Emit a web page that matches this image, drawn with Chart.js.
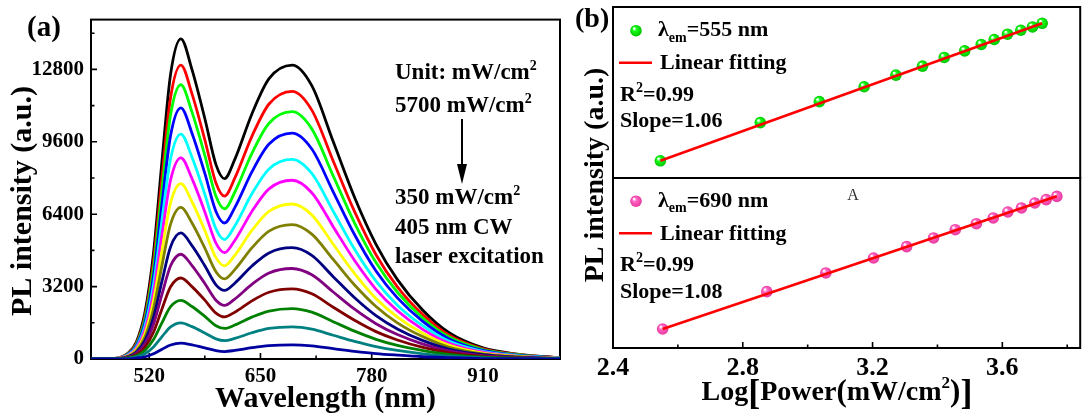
<!DOCTYPE html>
<html>
<head>
<meta charset="utf-8">
<script src="https://cdn.jsdelivr.net/npm/chart.js@4.4.1/dist/chart.umd.min.js"></script>
<style>
  html, body { margin: 0; padding: 0; background: #fff; overflow: hidden; }
  #wrap { position: relative; width: 1086px; height: 417px; }
  canvas { position: absolute; top: 0; }
</style>
</head>
<body>
<div id="wrap">
  <canvas id="spectra" width="566" height="417" style="left:0;width:566px;height:417px"></canvas>
  <canvas id="fit690" width="521" height="417" style="left:565px;width:521px;height:417px"></canvas>
  <canvas id="fit555" width="521" height="417" style="left:565px;width:521px;height:417px"></canvas>
</div>
<script>
// ---- panel (a): PL spectra, 5700 -> 350 mW/cm2 ----
const wavelengths = [452, 480, 495, 505, 515, 525, 535, 545, 557, 570, 585, 598, 608, 620, 640, 660, 687, 710, 735, 760, 785, 810, 840, 870, 910, 950, 1000];
const pl01 = [0, 30, 250, 750, 2050, 4670, 8770, 12590, 14150, 12790, 10630, 8590, 7970, 8820, 10830, 12390, 12990, 12080, 9610, 7140, 5070, 3510, 2140, 1170, 490, 220, 50];
const pl02 = [0, 30, 230, 690, 1880, 4290, 8050, 11560, 12990, 11720, 9690, 7780, 7200, 7990, 9840, 11270, 11830, 11000, 8750, 6510, 4610, 3190, 1950, 1060, 450, 200, 50];
const pl03 = [0, 20, 220, 640, 1760, 4000, 7510, 10790, 12120, 10910, 9000, 7190, 6640, 7370, 9090, 10420, 10930, 10170, 8090, 6010, 4260, 2950, 1800, 980, 420, 190, 40];
const pl04 = [0, 20, 200, 590, 1610, 3660, 6880, 9880, 11100, 9980, 8200, 6520, 6010, 6690, 8270, 9500, 9980, 9280, 7390, 5490, 3890, 2700, 1650, 900, 380, 170, 40];
const pl05 = [0, 20, 180, 530, 1440, 3280, 6160, 8850, 9940, 8920, 7280, 5750, 5280, 5880, 7300, 8400, 8820, 8200, 6530, 4850, 3440, 2380, 1460, 790, 340, 150, 40];
const pl06 = [0, 20, 160, 470, 1290, 2930, 5510, 7910, 8890, 7970, 6500, 5120, 4700, 5240, 6520, 7520, 7900, 7350, 5850, 4350, 3080, 2130, 1300, 710, 300, 130, 30];
const pl07 = [0, 20, 140, 410, 1120, 2560, 4810, 6900, 7750, 6950, 5680, 4480, 4120, 4580, 5680, 6520, 6850, 6370, 5070, 3770, 2670, 1850, 1130, 620, 260, 120, 30];
const pl08 = [0, 10, 120, 360, 970, 2210, 4150, 5960, 6700, 6010, 4900, 3860, 3540, 3950, 4910, 5650, 5940, 5520, 4400, 3270, 2320, 1600, 980, 530, 230, 100, 20];
const pl09 = [0, 10, 100, 300, 810, 1840, 3450, 4960, 5570, 5010, 4120, 3280, 3030, 3350, 4110, 4690, 4920, 4580, 3640, 2710, 1920, 1330, 810, 440, 190, 80, 20];
const pl10 = [0, 10, 80, 250, 670, 1530, 2870, 4120, 4630, 4130, 3340, 2600, 2370, 2650, 3300, 3800, 4000, 3720, 2960, 2200, 1560, 1080, 660, 360, 150, 70, 20];
const pl11 = [0, 10, 60, 190, 520, 1180, 2220, 3190, 3580, 3200, 2600, 2030, 1860, 2070, 2570, 2950, 3100, 2880, 2290, 1710, 1210, 840, 510, 280, 120, 50, 10];
const pl12 = [0, 10, 50, 140, 380, 860, 1610, 2310, 2590, 2320, 1880, 1470, 1350, 1500, 1850, 2120, 2230, 2070, 1650, 1230, 870, 600, 370, 200, 80, 40, 10];
const pl13 = [0, 0, 30, 90, 230, 530, 990, 1420, 1600, 1430, 1150, 890, 810, 910, 1160, 1350, 1420, 1320, 1050, 780, 550, 380, 230, 130, 50, 20, 10];
const pl14 = [0, 0, 10, 40, 100, 230, 430, 620, 700, 620, 490, 370, 330, 380, 500, 590, 625, 580, 460, 340, 240, 170, 100, 60, 20, 10, 0];
const spectra = [pl01, pl02, pl03, pl04, pl05, pl06, pl07, pl08, pl09, pl10, pl11, pl12, pl13, pl14];
const spectrumColors = ['#000000', '#ff0000', '#00ff00', '#0000ff', '#00ffff', '#ff00ff', '#ffff00',
  '#808000', '#000080', '#800080', '#800000', '#008000', '#008080', '#0000a0'];
const wavelengthTicks = [520, 650, 780, 910];
const intensityTicks = [0, 3200, 6400, 9600, 12800];

// ---- panel (b): log-log power dependence ----
const logPower555 = [2.546, 2.854, 3.036, 3.174, 3.272, 3.354, 3.421, 3.484, 3.535, 3.575, 3.616, 3.657, 3.693, 3.723];
const logPL555 = [2.756, 3.103, 3.293, 3.428, 3.534, 3.615, 3.694, 3.754, 3.812, 3.857, 3.905, 3.941, 3.971, 4.004];
const fitX555 = [2.546, 3.723];
const fitY555 = [2.757, 4.004];
const logPower690 = [2.553, 2.874, 3.056, 3.203, 3.305, 3.388, 3.455, 3.520, 3.572, 3.617, 3.659, 3.700, 3.735, 3.768];
const logPL690 = [2.688, 3.057, 3.242, 3.390, 3.502, 3.588, 3.670, 3.729, 3.786, 3.845, 3.885, 3.934, 3.967, 3.999];
const fitX690 = [2.553, 3.768];
const fitY690 = [2.688, 4.000];
const powerTicks = [2.4, 2.8, 3.2, 3.6];

const FONT = '"Liberation Serif", "Times New Roman", serif';
Chart.defaults.font.family = FONT;
Chart.defaults.color = '#000';
const bold = size => `bold ${size}px ${FONT}`;

// draws a run of text pieces [text, size, dy] starting at x (or centred)
function richText(ctx, x, y, parts, centred) {
  let w = 0;
  parts.forEach(p => { ctx.font = bold(p[1]); w += ctx.measureText(p[0]).width; });
  let cx = centred ? x - w / 2 : x;
  ctx.textAlign = 'left';
  ctx.textBaseline = 'alphabetic';
  ctx.fillStyle = '#000';
  parts.forEach(p => {
    ctx.font = bold(p[1]);
    ctx.fillText(p[0], cx, y + (p[2] || 0));
    cx += ctx.measureText(p[0]).width;
  });
}

function sphere(ctx, x, y, r, tone) {
  const g = ctx.createRadialGradient(x - r * 0.35, y - r * 0.4, r * 0.1, x, y, r);
  g.addColorStop(0, '#ffffff');
  g.addColorStop(0.3, tone[0]);
  g.addColorStop(1, tone[1]);
  return g;
}

const minorOf = (major, lo, hi) => {
  const step = major[1] - major[0];
  return [major[0] - step / 2, ...major.map(v => v + step / 2)]
    .filter(v => v > lo + step * 0.05 && v < hi - step * 0.05);
};

// box frame with inward Origin-style ticks
function frameTicks(ticks) {
  return {
    id: 'frameTicks',
    beforeDatasetsDraw(chart) {
      const { ctx, chartArea: a, scales } = chart;
      ctx.save();
      ctx.strokeStyle = '#000';
      ctx.lineWidth = 2;
      ctx.strokeRect(a.left, a.top, a.right - a.left, a.bottom - a.top);
      ctx.lineWidth = 1.6;
      ctx.beginPath();
      (ticks.x || []).forEach(([vals, len]) => vals.forEach(v => {
        const px = scales.x.getPixelForValue(v);
        ctx.moveTo(px, a.bottom); ctx.lineTo(px, a.bottom - len);
      }));
      (ticks.y || []).forEach(([vals, len]) => vals.forEach(v => {
        const py = scales.y.getPixelForValue(v);
        ctx.moveTo(a.left, py); ctx.lineTo(a.left + len, py);
      }));
      ctx.stroke();
      ctx.restore();
    }
  };
}

// ----- panel (a) -----
new Chart(document.getElementById('spectra'), {
  type: 'line',
  data: {
    datasets: spectra.map((vals, i) => ({
      data: wavelengths.map((w, k) => ({ x: w, y: vals[k] })),
      borderColor: spectrumColors[i],
      borderWidth: 2.8,
      pointRadius: 0,
      cubicInterpolationMode: 'monotone',
      fill: false,
      order: spectra.length - i
    }))
  },
  options: {
    responsive: false,
    animation: false,
    events: [],
    layout: { padding: { left: 0, top: 16, right: 6, bottom: 0 } },
    plugins: { legend: { display: false }, tooltip: { enabled: false } },
    scales: {
      x: {
        type: 'linear', min: 452, max: 1000,
        afterBuildTicks: s => { s.ticks = wavelengthTicks.map(v => ({ value: v })); },
        afterFit: s => { s.height = 58; },
        grid: { display: false, drawTicks: false },
        border: { display: false },
        ticks: { padding: 5, autoSkip: false, maxRotation: 0, font: { size: 21, weight: 'bold' }, callback: v => String(v) },
        title: { display: true, text: 'Wavelength (nm)', font: { size: 30, weight: 'bold' }, padding: { top: 0, bottom: 0 } }
      },
      y: {
        type: 'linear', min: 0, max: 15000,
        afterBuildTicks: s => { s.ticks = intensityTicks.map(v => ({ value: v })); },
        afterFit: s => { s.width = 91; },
        grid: { display: false, drawTicks: false },
        border: { display: false },
        ticks: { padding: 7, autoSkip: false, font: { size: 21, weight: 'bold' }, callback: v => String(v) }
      }
    }
  },
  plugins: [
    frameTicks({
      x: [[wavelengthTicks, 6], [minorOf(wavelengthTicks, 452, 1000), 3.5]],
      y: [[intensityTicks, 6], [minorOf(intensityTicks, 0, 15000), 3.5]]
    }),
    {
      id: 'notesA',
      afterDraw(chart) {
        const ctx = chart.ctx;
        ctx.save();
        ctx.fillStyle = '#000';
        ctx.translate(23, 201);
        ctx.rotate(-Math.PI / 2);
        ctx.font = bold(30);
        ctx.textAlign = 'center';
        ctx.textBaseline = 'middle';
        ctx.fillText('PL intensity (a.u.)', 0, 0);
        ctx.restore();
        ctx.save();
        richText(ctx, 27, 36, [['(a)', 29]]);
        richText(ctx, 395, 79, [['Unit: mW/cm', 23], ['2', 14, -9]]);
        richText(ctx, 395, 112, [['5700 mW/cm', 23], ['2', 14, -9]]);
        richText(ctx, 395, 204, [['350 mW/cm', 23], ['2', 14, -9]]);
        richText(ctx, 395, 234, [['405 nm CW', 23]]);
        richText(ctx, 395, 263, [['laser excitation', 23]]);
        // arrow 5700 -> 350
        ctx.strokeStyle = '#000';
        ctx.lineWidth = 2;
        ctx.beginPath(); ctx.moveTo(462, 119); ctx.lineTo(462, 168); ctx.stroke();
        ctx.beginPath(); ctx.moveTo(457, 164); ctx.lineTo(467, 164); ctx.lineTo(462, 184); ctx.closePath(); ctx.fill();
        ctx.restore();
      }
    }
  ]
});

// ----- panel (b) -----
const greenTone = ['#18ff18', '#00c400'];
const pinkTone = ['#ff66c6', '#e8399d'];
const OFFB = 565;
const DOT = 5.8;

function powerChart(id, px, py, fx, fy, tone, yMin, yMax, padding, bottomAxis, extra) {
  const pointFill = c => {
    const ch = c.chart;
    if (c.type !== 'data' || !ch.scales.x || !ch.scales.y || !c.parsed) return tone[0];
    const x = ch.scales.x.getPixelForValue(c.parsed.x);
    const y = ch.scales.y.getPixelForValue(c.parsed.y);
    if (!Number.isFinite(x) || !Number.isFinite(y)) return tone[0];
    return sphere(ch.ctx, x, y, DOT, tone);
  };
  return new Chart(document.getElementById(id), {
    type: 'scatter',
    data: {
      datasets: [
        {
          data: fx.map((x, k) => ({ x, y: fy[k] })),
          showLine: true, borderColor: '#ff0000', borderWidth: 2.6, pointRadius: 0, order: 0
        },
        {
          data: px.map((x, k) => ({ x, y: py[k] })),
          pointRadius: DOT, borderWidth: 0, backgroundColor: pointFill, order: 1
        }
      ]
    },
    options: {
      responsive: false,
      animation: false,
      events: [],
      layout: { padding },
      plugins: { legend: { display: false }, tooltip: { enabled: false } },
      scales: {
        x: {
          type: 'linear', min: 2.4, max: 3.84, display: bottomAxis,
          afterBuildTicks: s => { s.ticks = powerTicks.map(v => ({ value: v })); },
          afterFit: s => { s.height = bottomAxis ? 69 : 0; },
          grid: { display: false, drawTicks: false },
          border: { display: false },
          ticks: { padding: 5, autoSkip: false, maxRotation: 0, font: { size: 26, weight: 'bold' }, callback: v => v.toFixed(1) }
        },
        y: { type: 'linear', min: yMin, max: yMax, display: false }
      }
    },
    plugins: [
      frameTicks(bottomAxis ? { x: [[powerTicks, 6], [minorOf(powerTicks, 2.4, 3.84), 3.5]] } : {}),
      { id: 'notes' + id, afterDraw: chart => extra(chart.ctx) }
    ]
  });
}

function legendBlock(ctx, dy, tone, lambda, r2, slope) {
  const x = v => v - OFFB;
  ctx.save();
  ctx.fillStyle = sphere(ctx, x(636), 30.7 + dy, DOT, tone);
  ctx.beginPath(); ctx.arc(x(636), 30.7 + dy, DOT, 0, Math.PI * 2); ctx.fill();
  richText(ctx, x(658), 36 + dy, [['λ', 22], ['em', 14, 5.5], ['=' + lambda + ' nm', 22]]);
  ctx.strokeStyle = '#ff0000';
  ctx.lineWidth = 2.6;
  ctx.beginPath(); ctx.moveTo(x(619), 62.7 + dy); ctx.lineTo(x(652), 62.7 + dy); ctx.stroke();
  richText(ctx, x(660), 69 + dy, [['Linear fitting', 22]]);
  richText(ctx, x(620), 100.7 + dy, [['R', 22], ['2', 14, -9], ['=' + r2, 22]]);
  richText(ctx, x(620), 127 + dy, [['Slope=' + slope, 22]]);
  ctx.restore();
}

powerChart('fit690', logPower690, logPL690, fitX690, fitY690, pinkTone, 2.5, 4.181,
  { left: 48, top: 178, right: 1, bottom: 0 }, true, ctx => {
    legendBlock(ctx, 170.5, pinkTone, '690', '0.99', '1.08');
    ctx.save();
    ctx.fillStyle = '#000';
    ctx.translate(596 - OFFB, 175);
    ctx.rotate(-Math.PI / 2);
    ctx.font = bold(28);
    ctx.textAlign = 'center';
    ctx.textBaseline = 'middle';
    ctx.fillText('PL intensity (a.u.)', 0, 0);
    ctx.restore();
    ctx.save();
    richText(ctx, 575 - OFFB, 27, [['(b)', 28]]);
    richText(ctx, 837 - OFFB, 400, [['Log', 28], ['[', 36, 4], ['Power', 28], ['(', 31, 1], ['mW/cm', 28],
      ['2', 17, -12], [')', 31, 1], [']', 36, 4]], true);
    ctx.font = `16px ${FONT}`;
    ctx.fillStyle = '#333';
    ctx.textAlign = 'center';
    ctx.fillText('A', 853 - OFFB, 200);
    ctx.restore();
  });

powerChart('fit555', logPower555, logPL555, fitX555, fitY555, greenTone, 2.6, 4.152,
  { left: 48, top: 7, right: 1, bottom: 239 }, false, ctx => {
    legendBlock(ctx, 0, greenTone, '555', '0.99', '1.06');
  });
</script>
</body>
</html>
